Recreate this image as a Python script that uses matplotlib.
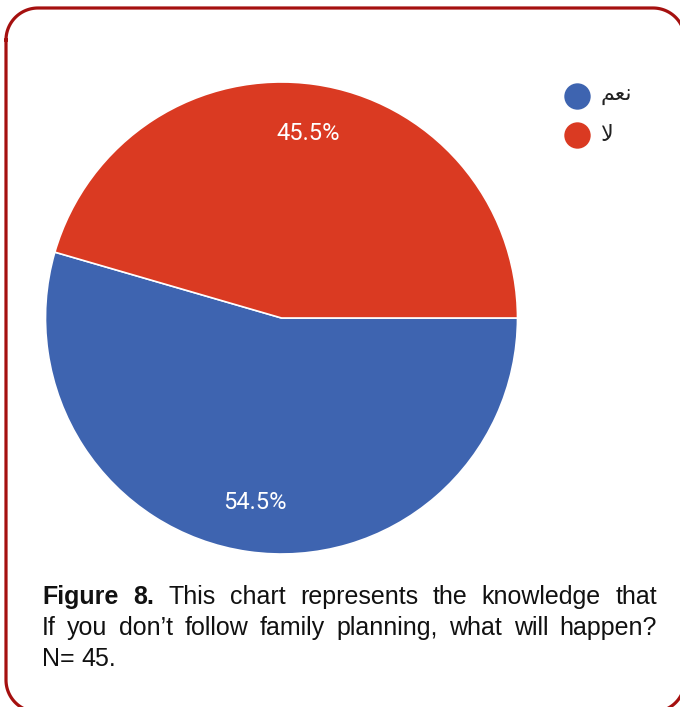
import numpy as np
import matplotlib.pyplot as plt

# answer shares (percent)
labels = ["نعم", "لا"]
shares = [54.5, 45.5]
colors = ["#3e64b0", "#da3a22"]

# pre-shaped arabic glyphs (matplotlib has no text shaping / bidi)
legend_text = ["\uFEE2\uFECC\uFEE7", "\uFEFB"]

caption_lines = [
    [("Figure 8.", "bold"), ("This chart represents the knowledge that", "normal")],
    [("If you don\u2019t follow family planning, what will happen?", "normal")],
    [("N= 45.", "normal")],
]


def rounded_rect(x0, y0, x1, y1, rad, n=30):
    # polyline outline (y grows downward), clockwise from top-left corner
    xs, ys = [], []
    corners = [
        (x0 + rad, y0 + rad, 180, 270),
        (x1 - rad, y0 + rad, 270, 360),
        (x1 - rad, y1 - rad, 0, 90),
        (x0 + rad, y1 - rad, 90, 180),
    ]
    for ccx, ccy, a0, a1 in corners:
        t = np.radians(np.linspace(a0, a1, n))
        xs.extend(ccx + rad * np.cos(t))
        ys.extend(ccy + rad * np.sin(t))
    xs.append(xs[0])
    ys.append(ys[0])
    return xs, ys


W, H = 680, 707
fig = plt.figure(figsize=(W / 100, H / 100), dpi=100)

# background layer in pixel coordinates
bg = fig.add_axes([0, 0, 1, 1])
bg.set_xlim(0, W)
bg.set_ylim(H, 0)
bg.axis("off")

fx, fy = rounded_rect(6, 8, 685, 712, 32)
bg.plot(fx, fy, color="#a5100f", lw=2.3, solid_joinstyle="round")

# pie
cx, cy, r = 281.5, 318, 236
ax = fig.add_axes([(cx - r) / W, 1 - (cy + r) / H, 2 * r / W, 2 * r / H])
wedges, texts, autotexts = ax.pie(
    shares, colors=colors, startangle=0, counterclock=False,
    autopct="%.1f%%", pctdistance=0.79,
    wedgeprops=dict(edgecolor="white", linewidth=1.2),
    textprops=dict(color="white", fontsize=17, family="Roboto"),
)
ax.set_xlim(-1.0, 1.0)
ax.set_ylim(-1.0, 1.0)
ax.set_aspect("auto")
ax.axis("off")

# legend
for i, (txt, col) in enumerate(zip(legend_text, colors)):
    y = 96 + i * 39
    bg.plot(577, y, "o", ms=19, color=col, mec="none")
    bg.text(600, y, txt, fontsize=16, family="DejaVu Sans", color="#222222",
            va="center", ha="left")

# caption, justified between left and right margins
left, right = 42, 657
line_y = [597, 628, 659]
fs = 18
renderer = fig.canvas.get_renderer()

for li, (segments, y) in enumerate(zip(caption_lines, line_y)):
    words = []
    for text, weight in segments:
        for w in text.split(" "):
            words.append((w, weight))
    items = []
    for w, weight in words:
        t = bg.text(0, y, w, fontsize=fs, family="Liberation Sans",
                    fontweight=weight, color="#111111", va="center", ha="left")
        width = t.get_window_extent(renderer).width
        items.append((t, width))
    total = sum(wd for _, wd in items)
    justify = li < 2 and len(items) > 1
    if justify:
        gap = (right - left - total) / (len(items) - 1)
    else:
        gap = fs * 0.278 * 100 / 72
    x = left
    for t, wd in items:
        t.set_x(x)
        x += wd + gap

fig.savefig("out.png", dpi=100)
